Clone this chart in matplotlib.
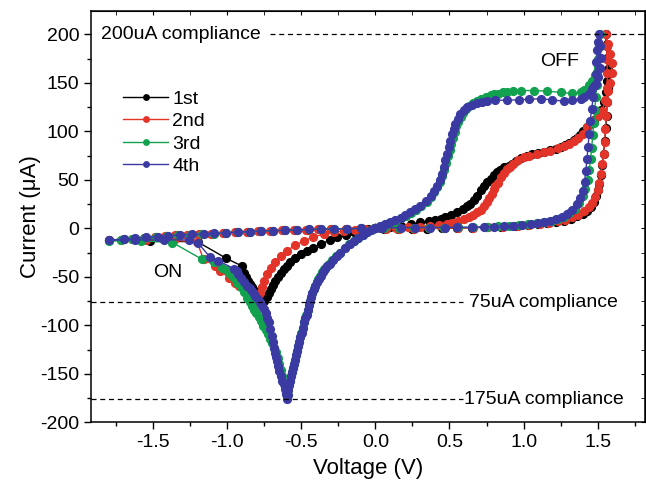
import matplotlib
matplotlib.use("Agg")
import matplotlib.pyplot as plt
from matplotlib.ticker import MultipleLocator

plt.rcParams['font.family'] = ['Liberation Sans', 'DejaVu Sans']
plt.rcParams['axes.unicode_minus'] = False

# cycle 1 (black): 0 -> +V lower branch, upper branch back, 0 -> -V dip, left arm, return
v_1st = [0.0, 0.06, 0.15, 0.25, 0.35, 0.45, 0.55, 0.65, 0.75, 0.85, 0.95, 1.03, 1.1, 1.16, 1.22, 1.27,
         1.32, 1.36, 1.4, 1.43, 1.455, 1.475, 1.49, 1.5, 1.51, 1.52, 1.53, 1.54, 1.548, 1.555, 1.56, 1.565,
         1.567, 1.567, 1.565, 1.56, 1.557,
         1.56, 1.565, 1.57, 1.565, 1.555, 1.54, 1.52, 1.5, 1.475, 1.45, 1.425, 1.4, 1.38, 1.36, 1.34, 1.31,
         1.28, 1.25, 1.22, 1.18, 1.14, 1.1, 1.06, 1.02, 0.98, 0.95, 0.92, 0.9, 0.867, 0.84, 0.82, 0.8,
         0.777, 0.755, 0.73, 0.71, 0.687, 0.665, 0.64, 0.62, 0.59, 0.55, 0.51, 0.47, 0.44, 0.4, 0.36, 0.3,
         0.24, 0.17, 0.1, 0.04, 0.0,
         -0.05, -0.1, -0.146, -0.2, -0.26, -0.31, -0.37, -0.42, -0.46, -0.5, -0.54, -0.574, -0.6, -0.62,
         -0.64, -0.66, -0.675, -0.69, -0.705, -0.72, -0.735, -0.75, -0.765,
         -0.775, -0.785, -0.8, -0.815, -0.83, -0.845, -0.86, -0.875, -0.89, -0.905, -0.9, -1.007, -1.2,
         -1.52, -1.8,
         -1.7, -1.62, -1.55, -1.48, -1.41, -1.34, -1.26, -1.18, -1.1, -1.02, -0.94, -0.86, -0.78, -0.7,
         -0.62, -0.54, -0.46, -0.38, -0.3, -0.2, -0.1, 0.0]
i_1st = [0, -0.5, -0.5, -0.5, -0.3, 0, 0.3, 0.6, 1, 1.5, 2.2, 3, 4, 5, 6.5, 8,
         10, 12.5, 15, 18, 22, 27, 33, 39, 46, 55, 65, 77, 90, 103, 116, 130,
         145, 160, 175, 190, 200,
         188, 176, 164, 152, 140, 130, 122, 116, 112, 108, 104, 100, 96, 93, 91, 88,
         86, 84, 82, 80.5, 79, 78, 76.5, 74.5, 72, 69, 66, 64.6, 63, 60, 57.7, 54.5,
         51, 47.5, 44, 39, 33.6, 29, 25.5, 23, 19.5, 16.3, 13.5, 11.5, 10, 8.5, 7.2, 6,
         4.2, 2.6, 1.3, 0.5, 0,
         -1.2, -2.5, -4.3, -6.5, -9.5, -12.5, -16.3, -20, -23, -26.5, -30.5, -35, -38.5, -42,
         -46, -50.5, -54, -58, -62.5, -67, -71, -74.5, -77.5,
         -76, -72.5, -69, -65, -61, -57.5, -54, -50, -46, -44, -39, -31, -14,
         -13, -12,
         -11.5, -11, -9.8, -8.6, -7.7, -7, -6.5, -6, -5.4, -4.8, -4.2, -3.5, -3, -2.5,
         -2.1, -1.7, -1.3, -1, -0.8, -0.6, -0.3, 0]

v_2nd = [0.0, 0.07, 0.16, 0.26, 0.36, 0.46, 0.56, 0.66, 0.76, 0.86, 0.96, 1.04, 1.11, 1.17, 1.23, 1.28,
         1.33, 1.37, 1.41, 1.44, 1.465, 1.485, 1.5, 1.512, 1.522, 1.532, 1.54, 1.547, 1.553, 1.558, 1.562,
         1.565, 1.565, 1.563, 1.56, 1.558,
         1.57, 1.585, 1.595, 1.595, 1.585, 1.57, 1.55, 1.53, 1.5, 1.464, 1.43, 1.4, 1.37, 1.34, 1.305, 1.27,
         1.23, 1.18, 1.14, 1.09, 1.04, 1.0, 0.96, 0.93, 0.91, 0.89, 0.87, 0.845, 0.825, 0.81, 0.8, 0.785,
         0.77, 0.755, 0.735, 0.71, 0.687, 0.66, 0.63, 0.597, 0.56, 0.52, 0.484, 0.43, 0.37, 0.3, 0.22, 0.14,
         0.07, 0.0,
         -0.07, -0.14, -0.214, -0.28, -0.35, -0.42, -0.484, -0.54, -0.6, -0.64, -0.676, -0.705, -0.73,
         -0.75, -0.766, -0.78, -0.79, -0.8, -0.81,
         -0.82, -0.835, -0.85, -0.867, -0.89, -0.92, -0.946, -0.99, -1.047, -1.08, -1.16, -1.205, -1.36,
         -1.55, -1.8,
         -1.72, -1.64, -1.56, -1.49, -1.42, -1.35, -1.27, -1.19, -1.11, -1.03, -0.95, -0.87, -0.79, -0.71,
         -0.63, -0.55, -0.47, -0.39, -0.3, -0.2, -0.1, 0.0]
i_2nd = [0, -0.5, -0.5, -0.4, -0.2, 0, 0.3, 0.7, 1.1, 1.6, 2.3, 3.2, 4.2, 5.5, 7, 9,
         11.5, 14, 17.5, 21.5, 26, 32, 39, 47, 56, 66, 77, 89, 102, 116, 130,
         145, 160, 175, 188, 200,
         190, 180, 170, 160, 150, 142, 132, 121, 116, 111, 104, 97, 93, 90, 87, 85,
         82.5, 80, 78.5, 76.7, 75, 73, 70, 66, 63.5, 61, 57.5, 52.5, 47, 43.5, 40.5, 35,
         31, 26.7, 22.5, 19, 16.3, 13.5, 11.5, 9.5, 7.5, 5.8, 4.3, 3.2, 2.3, 1.6, 1.1, 0.7,
         0.3, 0,
         -0.8, -1.6, -2.6, -4, -6, -9, -13, -17.5, -23, -28.5, -35, -41, -47,
         -54, -61, -66.5, -71, -74.5, -77,
         -74, -71, -69, -67, -63, -59, -56, -51, -44, -39, -32, -14, -12.5,
         -12, -12.5,
         -11.8, -11, -10, -8.8, -7.8, -7.1, -6.5, -6, -5.5, -4.9, -4.3, -3.6, -3, -2.6,
         -2.2, -1.8, -1.4, -1, -0.8, -0.5, -0.2, 0]

v_3rd = [0.0, 0.06, 0.16, 0.26, 0.36, 0.46, 0.56, 0.66, 0.75, 0.83, 0.9, 0.97, 1.03, 1.09, 1.14, 1.19,
         1.23, 1.27, 1.31, 1.345, 1.375, 1.4, 1.418, 1.432, 1.443, 1.452, 1.46, 1.467, 1.474, 1.481, 1.487,
         1.493, 1.499, 1.505, 1.51, 1.515,
         1.515, 1.51, 1.5, 1.485, 1.465, 1.44, 1.41, 1.385, 1.33, 1.25, 1.16, 1.07, 0.98, 0.93, 0.89, 0.86,
         0.83, 0.8, 0.777, 0.745, 0.71, 0.687, 0.66, 0.635, 0.612, 0.59, 0.575, 0.56, 0.547, 0.535, 0.524,
         0.513, 0.502, 0.49, 0.478, 0.465, 0.452, 0.436, 0.419, 0.398, 0.375, 0.345, 0.31, 0.275, 0.24,
         0.205, 0.172, 0.138, 0.104, 0.07, 0.036, 0.0,
         -0.03, -0.058, -0.087, -0.117, -0.148, -0.177, -0.207, -0.238, -0.264, -0.29, -0.312, -0.328,
         -0.344, -0.359, -0.372, -0.385, -0.396, -0.407, -0.417, -0.427, -0.435, -0.442, -0.45, -0.458,
         -0.467, -0.475, -0.483, -0.492, -0.5, -0.508, -0.515, -0.522, -0.53, -0.537, -0.544, -0.551,
         -0.558, -0.565, -0.572, -0.578, -0.584, -0.589, -0.594, -0.599,
         -0.605, -0.613, -0.621, -0.63, -0.639, -0.649, -0.66, -0.672, -0.685, -0.698, -0.71, -0.725,
         -0.74, -0.757, -0.773, -0.788, -0.805, -0.82, -0.835, -0.85, -0.867, -0.885, -0.91, -0.935,
         -0.958, -0.98, -1.005, -1.036, -1.09, -1.17, -1.37, -1.58, -1.8,
         -1.72, -1.64, -1.56, -1.48, -1.41, -1.33, -1.25, -1.17, -1.09, -1.01, -0.93, -0.85, -0.77, -0.69,
         -0.61, -0.53, -0.45, -0.37, -0.28, -0.19, -0.1, 0.0]
i_3rd = [0, 0.4, 0.6, 0.7, 0.7, 0.8, 0.9, 1.1, 1.5, 2, 2.6, 3.2, 4, 5, 6.3, 7.8,
         9.6, 12, 15.5, 20, 26, 33, 41, 50, 60, 71, 83, 96, 109, 122, 135,
         148, 161, 174, 187, 200,
         188, 176, 166, 158, 152, 148, 143, 140, 139, 140, 141.4, 142, 142, 141.5, 141, 140,
         138.7, 138, 137, 135.5, 133.5, 131.5, 129, 126, 122.5, 119, 115, 110, 105, 99, 93,
         87, 80.5, 74, 67, 60.5, 54, 48, 42.5, 37, 32.5, 27.5, 22.5, 19, 15.8,
         13, 10.5, 8, 5.8, 4, 2.4, 0,
         -2, -4.3, -7, -10, -13, -16.5, -20.5, -25, -29, -33, -36.5, -39,
         -42, -45.5, -49, -52, -55, -59, -63, -67, -71, -74.5, -79, -84,
         -89, -93, -97, -102.5, -107.5, -112.5, -117, -121.5, -126.5, -131, -135.5, -140,
         -144, -148, -152.5, -157, -162, -167, -171.5, -175,
         -170, -164, -158, -152, -146, -140, -134, -128, -123, -118, -114, -109,
         -105, -100.5, -96, -91.5, -87.5, -84, -80, -76, -71.5, -66, -61, -56,
         -51, -47, -43.5, -40.5, -35, -32, -14.7, -13, -13,
         -12, -11.2, -10, -8.8, -8, -7.3, -6.6, -6, -5.4, -4.8, -4.1, -3.4, -2.9, -2.4,
         -2, -1.6, -1.2, -0.9, -0.6, -0.4, -0.2, 0]

v_4th = [0.0, 0.045, 0.17, 0.27, 0.37, 0.47, 0.55, 0.65, 0.73, 0.8, 0.87, 0.93, 0.99, 1.05, 1.1, 1.14,
         1.18, 1.22, 1.26, 1.295, 1.33, 1.36, 1.382, 1.4, 1.412, 1.42, 1.428, 1.435, 1.442, 1.45, 1.46,
         1.47, 1.478, 1.486, 1.492, 1.498, 1.504, 1.51,
         1.518, 1.52, 1.515, 1.5, 1.486, 1.465, 1.44, 1.41, 1.385, 1.33, 1.27, 1.19, 1.115, 1.04, 0.97,
         0.89, 0.81, 0.755, 0.72, 0.687, 0.655, 0.62, 0.595, 0.574, 0.557, 0.54, 0.528, 0.518, 0.506,
         0.495, 0.484, 0.473, 0.462, 0.45, 0.434, 0.417, 0.395, 0.372, 0.34, 0.304, 0.27, 0.236, 0.2,
         0.17, 0.135, 0.1, 0.067, 0.034, 0.0,
         -0.028, -0.056, -0.085, -0.115, -0.146, -0.175, -0.205, -0.236, -0.262, -0.288, -0.31, -0.326,
         -0.342, -0.357, -0.37, -0.383, -0.394, -0.405, -0.415, -0.425, -0.433, -0.44, -0.448, -0.456,
         -0.465, -0.473, -0.481, -0.49, -0.498, -0.506, -0.513, -0.52, -0.528, -0.535, -0.542, -0.549,
         -0.556, -0.563, -0.57, -0.576, -0.582, -0.587, -0.592, -0.597,
         -0.603, -0.612, -0.62, -0.628, -0.64, -0.648, -0.656, -0.664, -0.67, -0.676, -0.684, -0.692,
         -0.7, -0.71, -0.72, -0.73, -0.742, -0.754, -0.766, -0.78, -0.795, -0.81, -0.82, -0.835, -0.85,
         -0.867, -0.89, -0.91, -0.925, -0.935, -0.957, -1.06, -1.115, -1.2, -1.26, -1.43, -1.62, -1.8,
         -1.7, -1.62, -1.55, -1.47, -1.4, -1.32, -1.24, -1.16, -1.09, -1.01, -0.93, -0.85, -0.77, -0.69,
         -0.61, -0.53, -0.45, -0.37, -0.28, -0.19, -0.1, 0.0]
i_4th = [0, 0.5, 0.7, 0.8, 0.8, 0.8, 0.9, 1, 1.3, 1.7, 2.2, 2.8, 3.3, 4.3, 5.5, 6.5,
         7.7, 9.3, 11.5, 14.6, 19, 25, 31, 38.8, 48, 59.4, 71, 83.5, 97, 111, 123,
         135, 147, 159, 171, 183.5, 192, 200,
         188, 176, 165, 156, 149, 144, 138.7, 135.5, 133.5, 132, 131, 132.5, 133.5, 133, 132.5,
         132, 132, 131, 130, 129, 127, 125, 121.5, 118, 113, 107.7, 102.5, 97, 90,
         83.5, 77, 70, 63, 56, 50, 44, 38.5, 33.6, 28, 23, 19.5, 16.3, 13.5,
         11, 8.5, 6, 4.2, 2.6, 0,
         -2, -4.3, -7, -10, -13, -16.5, -20.5, -25, -29, -33, -36.5, -39,
         -42, -45.5, -49, -52, -55, -59, -63, -67, -71, -74.5, -79, -84,
         -89, -93, -97, -102.5, -107.5, -112.5, -117, -121.5, -126.5, -131, -135.5, -140,
         -144, -148, -152.5, -157, -162, -167, -171.5, -176,
         -171, -166, -161, -157, -152, -147, -142, -137, -133, -129, -123, -117,
         -111, -104, -97, -92, -87, -83.5, -80, -76, -72.5, -70, -68, -65, -62,
         -59.4, -55, -51, -47, -44, -41.5, -33.6, -30, -14.7, -12, -12, -12, -12,
         -11.3, -10.5, -9.5, -8.5, -7.7, -7, -6.4, -5.9, -5.3, -4.7, -4, -3.4, -2.8, -2.4,
         -2, -1.6, -1.2, -0.9, -0.7, -0.5, -0.2, 0]

labels = ['1st', '2nd', '3rd', '4th']
colors = ['#000000', '#e3342a', '#12a24f', '#3b3aa3']
series = [(v_1st, i_1st), (v_2nd, i_2nd), (v_3rd, i_3rd), (v_4th, i_4th)]

fig = plt.figure(figsize=(6.46, 4.84), dpi=100)
ax = fig.add_axes([0.1409, 0.1275, 0.8576, 0.8498])

for (v, i), c, lab in zip(series, colors, labels):
    ax.plot(v, i, '-o', color=c, lw=1.0, ms=5.6, mec=c, label=lab)

# compliance lines
dash = dict(color='black', lw=0.9, ls=(0, (4, 3)))
ax.plot([-0.71, 1.82], [200, 200], **dash)
ax.plot([-1.92, 0.59], [-76, -76], **dash)
ax.plot([-1.92, 0.59], [-176, -176], **dash)
ax.text(-1.855, 200, '200uA compliance', fontsize=14, va='center', ha='left')
ax.text(0.635, -76, '75uA compliance', fontsize=14, va='center', ha='left')
ax.text(0.595, -176, '175uA compliance', fontsize=14, va='center', ha='left')
ax.text(1.24, 172, 'OFF', fontsize=14, va='center', ha='center')
ax.text(-1.405, -46, 'ON', fontsize=14, va='center', ha='center')

ax.set_xlim(-1.92, 1.82)
ax.set_ylim(-200, 224)
ax.xaxis.set_major_locator(MultipleLocator(0.5))
ax.xaxis.set_minor_locator(MultipleLocator(0.25))
ax.yaxis.set_major_locator(MultipleLocator(50))
ax.yaxis.set_minor_locator(MultipleLocator(25))
ax.xaxis.set_major_formatter(plt.FuncFormatter(lambda x, p: f'{x:.1f}'))
ax.tick_params(which='major', direction='out', length=5, width=1, labelsize=14)
ax.tick_params(which='minor', direction='out', length=3, width=1)
for s in ax.spines.values():
    s.set_linewidth(1.1)

top = ax.secondary_xaxis('top')
top.xaxis.set_major_locator(MultipleLocator(0.5))
top.xaxis.set_minor_locator(MultipleLocator(0.25))
top.tick_params(which='both', direction='in', length=3, labeltop=False)
right = ax.secondary_yaxis('right')
right.yaxis.set_major_locator(MultipleLocator(50))
right.yaxis.set_minor_locator(MultipleLocator(25))
right.tick_params(which='both', direction='in', length=3, labelright=False)

ax.set_xlabel('Voltage (V)', fontsize=16, labelpad=5)
ax.set_ylabel('Current (\u03bcA)', fontsize=16)
ax.yaxis.set_label_coords(-0.09, 0.5)

ax.legend(loc='upper left', bbox_to_anchor=(0.027, 0.85), frameon=False, fontsize=14,
          handlelength=2.3, handletextpad=0.2, labelspacing=0.25, markerscale=0.7, numpoints=1)

fig.savefig('out.png', dpi=100)
